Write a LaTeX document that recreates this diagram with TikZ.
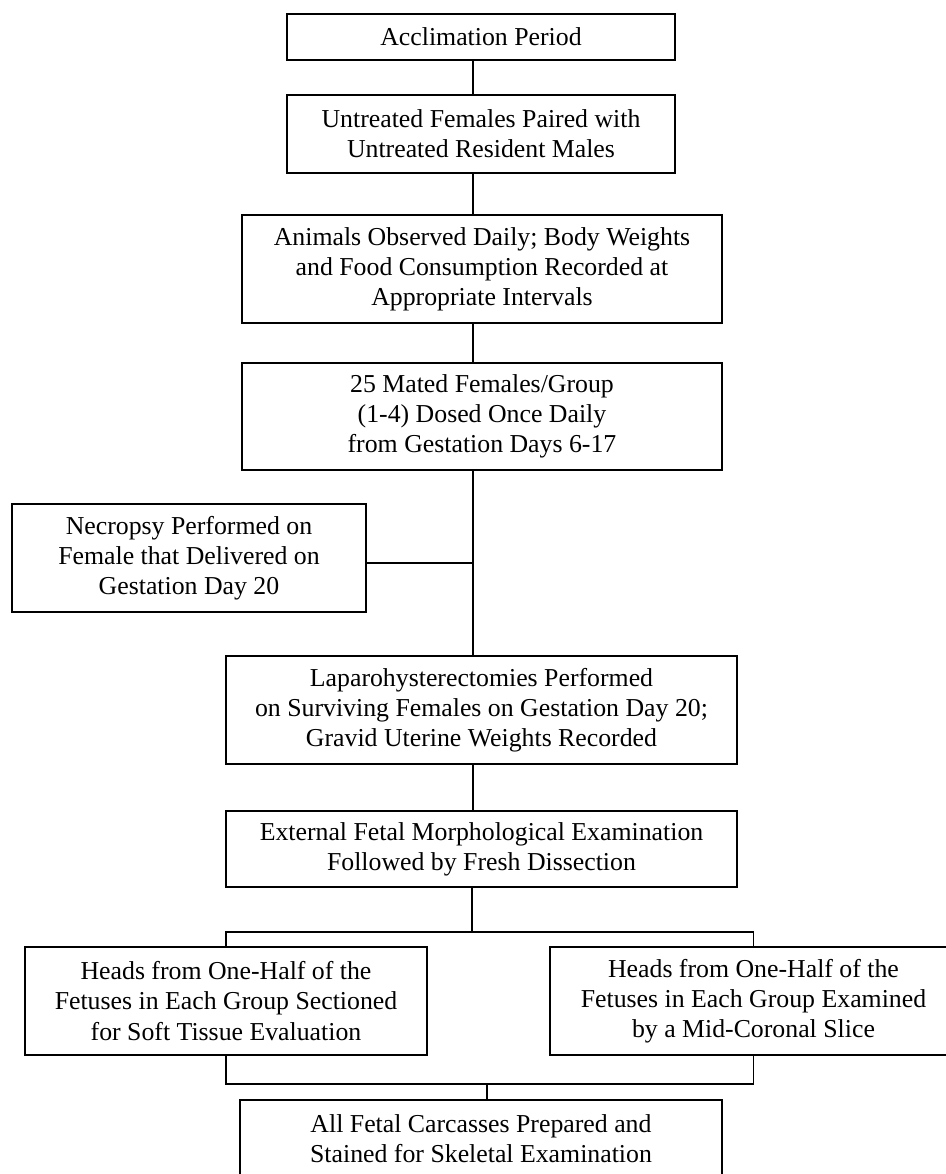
\documentclass[tikz,border=0pt]{standalone}
\usepackage{fontspec}
\setmainfont{Liberation Serif}
\tikzset{
  box/.style={draw, rectangle, line width=1.1pt, inner sep=0pt, align=center,
    font=\fontsize{25.8}{30.2}\selectfont, anchor=center},
  link/.style={line width=1.1pt}
}
\begin{document}
\begin{tikzpicture}[x=1pt,y=-1pt]
\useasboundingbox (0,0) rectangle (945,1174);
\node[box, minimum width=388pt, minimum height=46pt] (b1) at (481,37) {Acclimation Period};
\node[box, minimum width=388pt, minimum height=78pt] (b2) at (481,134) {Untreated Females Paired with\\Untreated Resident Males};
\node[box, minimum width=480pt, minimum height=108pt] (b3) at (482,269) {Animals Observed Daily; Body Weights\\and Food Consumption Recorded at\\Appropriate Intervals};
\node[box, minimum width=480pt, minimum height=107pt] (b4) at (482,416.5) {25 Mated Females/Group\\(1-4) Dosed Once Daily\\from Gestation Days 6-17};
\node[box, minimum width=354pt, minimum height=108pt] (nec) at (189,558) {Necropsy Performed on\\Female that Delivered on\\Gestation Day 20};
\node[box, minimum width=511pt, minimum height=108pt] (b5) at (481.5,710) {Laparohysterectomies Performed\\on Surviving Females on Gestation Day 20;\\Gravid Uterine Weights Recorded};
\node[box, minimum width=511pt, minimum height=76pt] (b6) at (481.5,849) {External Fetal Morphological Examination\\Followed by Fresh Dissection};
\node[box, minimum width=402pt, minimum height=108pt] (b7) at (226,1001) {Heads from One-Half of the\\Fetuses in Each Group Sectioned\\for Soft Tissue Evaluation};
\node[box, minimum width=407pt, minimum height=108pt] (b8) at (753.5,1001) {Heads from One-Half of the\\Fetuses in Each Group Examined\\by a Mid-Coronal Slice};
\node[box, minimum width=482pt, minimum height=77pt] (b9) at (481,1138.5) {All Fetal Carcasses Prepared and\\Stained for Skeletal Examination};

\coordinate (s) at (473,0);
\coordinate (j) at (473,563);
\coordinate (t) at (472,932);
\coordinate (u) at (487,1084);

\draw[link] (b1.south -| s) -- (b2.north -| s);
\draw[link] (b2.south -| s) -- (b3.north -| s);
\draw[link] (b3.south -| s) -- (b4.north -| s);
\draw[link] (b4.south -| s) -- (b5.north -| s);
\draw[link] (nec.east |- j) -- (j);
\draw[link] (b5.south -| s) -- (b6.north -| s);
\draw[link] (b6.south -| t) -- (t);
\draw[link] (b7.north) -- (b7.north |- t) -- (b8.north |- t) -- (b8.north);
\draw[link] (b7.south) -- (b7.south |- u) -- (b8.south |- u) -- (b8.south);
\draw[link] (u) -- (b9.north -| u);
\end{tikzpicture}
\end{document}
